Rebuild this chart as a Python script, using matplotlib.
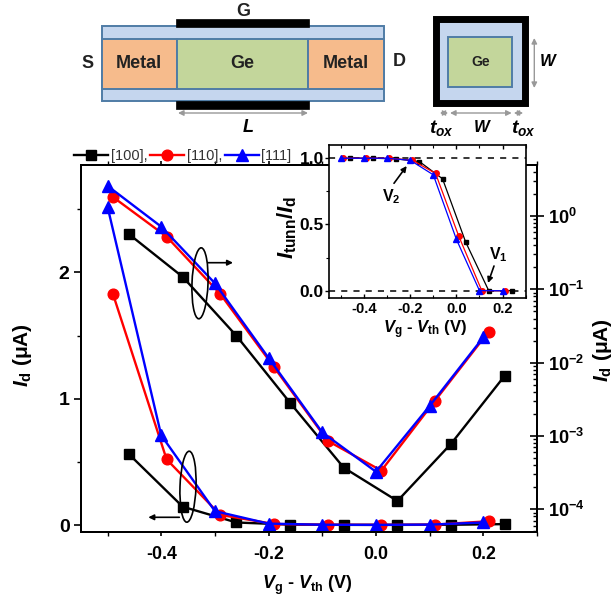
#!/usr/bin/env python3
# -*- coding: utf-8 -*-
import matplotlib
matplotlib.use("Agg")
import matplotlib.pyplot as plt
from matplotlib.patches import Rectangle, Ellipse
from matplotlib.ticker import FixedLocator, LogLocator, NullFormatter

plt.rcParams["font.family"] = ["Liberation Sans", "DejaVu Sans"]
plt.rcParams["font.weight"] = "bold"
plt.rcParams["mathtext.fontset"] = "custom"
plt.rcParams["mathtext.rm"] = "Liberation Sans:bold"
plt.rcParams["mathtext.it"] = "Liberation Sans:italic:bold"
plt.rcParams["mathtext.bf"] = "Liberation Sans:bold"
plt.rcParams["axes.unicode_minus"] = False

W_PX, H_PX = 616, 599

# -------------------------------
# data
# -------------------------------
vg_100 = [-0.46, -0.36, -0.26, -0.16, -0.06, 0.04, 0.14, 0.24]
vg_110 = [-0.49, -0.39, -0.29, -0.19, -0.09, 0.01, 0.11, 0.21]
vg_111 = [-0.50, -0.40, -0.30, -0.20, -0.10, 0.00, 0.10, 0.20]

lin_100 = [0.56, 0.145, 0.02, 0.003, 0.001, 0.001, 0.002, 0.007]
lin_110 = [1.83, 0.52, 0.08, 0.008, 0.002, 0.001, 0.003, 0.03]
lin_111 = [2.52, 0.71, 0.11, 0.011, 0.002, 0.001, 0.003, 0.02]

log_100 = [0.565, 0.148, 0.0233, 0.00284, 3.7e-4, 1.3e-4, 7.85e-4, 6.66e-3]
log_110 = [1.82, 0.524, 0.0865, 0.00873, 8.6e-4, 3.37e-4, 3.03e-3, 0.0265]
log_111 = [2.58, 0.716, 0.121, 0.0116, 1.12e-3, 3.26e-4, 2.57e-3, 0.0222]

ratio_100 = [1.0, 1.0, 0.995, 0.975, 0.845, 0.368, 0.0, 0.0]
ratio_110 = [1.0, 1.0, 1.0, 0.985, 0.885, 0.413, 0.0, 0.0]
ratio_111 = [1.0, 1.0, 1.0, 0.985, 0.875, 0.388, 0.0, 0.0]

series_names = ["[100],", "[110],", "[111]"]
x_ticks = [-0.4, -0.2, 0.0, 0.2]
x_tick_labels = ["-0.4", "-0.2", "0.0", "0.2"]
y_ticks = [0, 1, 2]
ratio_ticks = [0.0, 0.5, 1.0]
log_ticks = [1e-4, 1e-3, 1e-2, 1e-1, 1e0]
log_tick_labels = [r"$\mathregular{10^{-4}}$", r"$\mathregular{10^{-3}}$", r"$\mathregular{10^{-2}}$",
                   r"$\mathregular{10^{-1}}$", r"$\mathregular{10^{0}}$"]

BLACK, RED, BLUE = "black", "#ff0000", "#0000ff"


def px_axes(left, top, right, bottom):
    return [left / W_PX, 1 - bottom / H_PX, (right - left) / W_PX, (bottom - top) / H_PX]


fig = plt.figure(figsize=(W_PX / 100, H_PX / 100), dpi=100)

# -------------------------------
# main plot
# -------------------------------
ax = fig.add_axes(px_axes(80.7, 165, 537, 531.7))
ax2 = ax.twinx()
ax.set_xlim(-0.55, 0.30)
ax.set_ylim(-0.053, 2.85)
ax2.set_yscale("log")
ax2.set_ylim(10 ** -4.305, 10 ** 0.696)

main_style = [("s", 6.7, BLACK), ("o", 7.7, RED), ("^", 9, BLUE)]
lin_data = [(vg_100, lin_100), (vg_110, lin_110), (vg_111, lin_111)]
log_data = [(vg_100, log_100), (vg_110, log_110), (vg_111, log_111)]
handles = []
for (m, ms, c), (x, y), name in zip(main_style, lin_data, series_names):
    line, = ax.plot(x, y, color=c, marker=m, ms=ms, lw=1.7, label=name)
    handles.append(line)
for (m, ms, c), (x, y) in zip(main_style, log_data):
    ax2.plot(x, y, color=c, marker=m, ms=ms, lw=1.7)

for a in (ax, ax2):
    for s in a.spines.values():
        s.set_linewidth(1.4)

ax.set_xticks(x_ticks)
ax.set_xticklabels(x_tick_labels, fontsize=12.8)
ax.xaxis.set_minor_locator(FixedLocator([-0.5, -0.3, -0.1, 0.1, 0.3]))
ax.set_yticks(y_ticks)
ax.set_yticklabels([str(v) for v in y_ticks], fontsize=14)
ax.yaxis.set_minor_locator(FixedLocator([0.5, 1.5, 2.5]))
ax.tick_params(axis="x", which="major", length=3, width=1.2, direction="out", top=True, pad=7)
ax.tick_params(axis="x", which="minor", length=3, width=1.0, direction="out", top=True)
ax.tick_params(axis="y", which="major", length=5, width=1.2, direction="out", pad=3)
ax.tick_params(axis="y", which="minor", length=3, width=1.0, direction="out")

ax2.set_yticks(log_ticks)
ax2.set_yticklabels(log_tick_labels, fontsize=13)
ax2.yaxis.set_minor_locator(LogLocator(base=10, subs=range(2, 10), numticks=12))
ax2.yaxis.set_minor_formatter(NullFormatter())
ax2.tick_params(axis="y", which="major", length=10, width=1.2, direction="inout", pad=3)
ax2.tick_params(axis="y", which="minor", length=3, width=1.0, direction="in")

fig.legend(handles=handles, labels=series_names, loc="upper left",
           bbox_to_anchor=(67 / W_PX, 1 - 142 / H_PX), ncol=3, frameon=False,
           handlelength=2.3, handletextpad=0.2, columnspacing=0.2, borderpad=0,
           prop={"size": 10.5, "weight": "normal"}, labelcolor="#333333")

# -------------------------------
# inset
# -------------------------------
ins = fig.add_axes(px_axes(329.3, 145, 525.7, 297.7))
ins.set_zorder(5)
ins.set_xlim(-0.55, 0.30)
ins.set_ylim(-0.053, 1.10)
ins.axhline(1.0, color="black", lw=1.1, ls=(0, (4, 4)))
ins.axhline(0.0, color="black", lw=1.1, ls=(0, (4, 4)))
ins_style = [("s", 3.2, BLACK), ("o", 4, RED), ("^", 5, BLUE)]
ratio_data = [(vg_100, ratio_100), (vg_110, ratio_110), (vg_111, ratio_111)]
for (m, ms, c), (x, y) in zip(ins_style, ratio_data):
    ins.plot(x, y, color=c, marker=m, ms=ms, lw=0.9)
for s in ins.spines.values():
    s.set_linewidth(1.2)
ins.set_xticks(x_ticks)
ins.set_xticklabels(x_tick_labels, fontsize=10.5)
ins.xaxis.set_minor_locator(FixedLocator([-0.5, -0.3, -0.1, 0.1, 0.3]))
ins.set_yticks(ratio_ticks)
ins.set_yticklabels(["0.0", "0.5", "1.0"], fontsize=12.5)
ins.yaxis.set_minor_locator(FixedLocator([0.25, 0.75]))
ins.tick_params(axis="x", which="major", length=3, width=1.0, direction="in", top=True, pad=3)
ins.tick_params(axis="x", which="minor", length=2, width=0.8, direction="in", top=True)
ins.tick_params(axis="y", which="major", length=3, width=1.0, direction="out", pad=1)
ins.tick_params(axis="y", which="minor", length=2, width=0.8, direction="out")

# -------------------------------
# overlay in pixel coordinates: schematic, labels, arrows
# -------------------------------
ov = fig.add_axes([0, 0, 1, 1], facecolor="none")
ov.set_zorder(10)
ov.set_xlim(0, W_PX)
ov.set_ylim(H_PX, 0)
ov.axis("off")


def box(x0, y0, x1, y1, fc, ec="#4f7ca6", lw=1.4):
    ov.add_patch(Rectangle((x0, y0), x1 - x0, y1 - y0, fc=fc, ec=ec, lw=lw))


def arrow(x0, y0, x1, y1, style="-|>", color="black", lw=1.2):
    ov.annotate("", xy=(x1, y1), xytext=(x0, y0),
                arrowprops=dict(arrowstyle=style, color=color, lw=lw, shrinkA=0, shrinkB=0,
                                mutation_scale=8))


OXIDE, METAL, GE = "#c5d6ee", "#f6bb8c", "#c3d69b"
# side view
box(101.7, 26, 384.3, 101, OXIDE)
box(101.7, 39, 177.3, 89, METAL)
box(177.3, 39, 308.3, 89, GE)
box(308.3, 39, 384.3, 89, METAL)
box(176, 19, 309, 26.5, "black", "black", 0.5)
box(176, 101, 309, 108.7, "black", "black", 0.5)
for txt, x, y, fs in [("G", 243, 11, 13), ("S", 88, 63, 13), ("Metal", 139, 63, 13),
                      ("Ge", 242, 63, 13), ("Metal", 345.7, 63, 13), ("D", 399, 62, 13)]:
    ov.text(x, y, txt, ha="center", va="center", fontsize=fs, color="#222222")
arrow(178, 113, 308, 113, "<|-|>", "#999999", 1.0)
ov.text(248, 128, "L", ha="center", va="center", fontsize=13, style="italic")

# cross section
box(435.5, 19, 525, 102.5, OXIDE, "black", 5)
box(448.3, 36.7, 512.3, 87.3, GE)
ov.text(481, 61.7, "Ge", ha="center", va="center", fontsize=10, color="#222222")
arrow(534.3, 38, 534.3, 88, "<|-|>", "#999999", 1.0)
ov.text(548, 62, "W", ha="center", va="center", fontsize=12, style="italic")
arrow(440, 113, 448, 113, "<|-|>", "#999999", 0.8)
arrow(450, 113, 511.7, 113, "<|-|>", "#999999", 1.0)
arrow(514, 113, 523, 113, "<|-|>", "#999999", 0.8)
ov.text(441.7, 128, r"$\mathit{t}_{\mathit{ox}}$", ha="center", va="center", fontsize=14)
ov.text(481.7, 128, "W", ha="center", va="center", fontsize=12, style="italic")
ov.text(523, 128, r"$\mathit{t}_{\mathit{ox}}$", ha="center", va="center", fontsize=14)

# axis labels
ov.text(307, 585, r"$\mathit{V}_{\mathrm{g}}$ - $\mathit{V}_{\mathrm{th}}$ (V)",
        ha="center", va="center", fontsize=13)
ov.text(22, 355, r"$\mathit{I}_{\mathrm{d}}$ (μA)", ha="center", va="center",
        rotation=90, fontsize=15)
ov.text(603, 350, r"$\mathit{I}_{\mathrm{d}}$ (μA)", ha="center", va="center",
        rotation=90, fontsize=15)
ov.text(287, 227, r"$\mathit{I}_{\mathrm{tunn}}$/$\mathit{I}_{\mathrm{d}}$", ha="center", va="center",
        rotation=90, fontsize=16)
ov.text(425, 330, r"$\mathit{V}_{\mathrm{g}}$ - $\mathit{V}_{\mathrm{th}}$ (V)",
        ha="center", va="center", fontsize=12)

# annotations
ov.text(391, 197, r"V$_{\mathrm{2}}$", ha="center", va="center", fontsize=11.5)
arrow(394, 183.3, 406.7, 166)
ov.text(498, 255, r"V$_{\mathrm{1}}$", ha="center", va="center", fontsize=11.5)
arrow(494, 266, 488, 283)
ov.add_patch(Ellipse((200, 283.3), 16, 71, angle=2, fc="none", ec="black", lw=1.2))
ov.add_patch(Ellipse((188, 486.7), 16, 71, angle=2, fc="none", ec="black", lw=1.2))
arrow(207.7, 262.7, 233, 262.7)
arrow(179.3, 517.3, 148.3, 517.3)

fig.savefig("out.png", dpi=100)
plt.close(fig)
